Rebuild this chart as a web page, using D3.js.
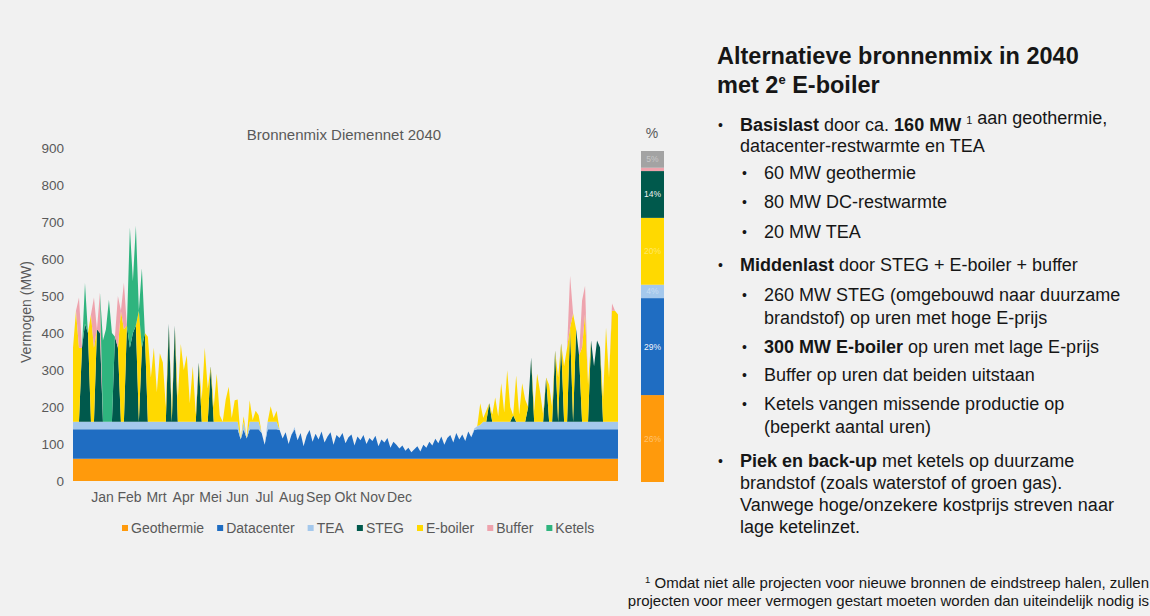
<!DOCTYPE html>
<html>
<head>
<meta charset="utf-8">
<script src="https://cdn.jsdelivr.net/npm/d3@7"></script>
<style>
  html, body { margin: 0; padding: 0; background: #f1f1f1; }
  svg { display: block; font-family: "Liberation Sans", Arial, sans-serif; }
</style>
</head>
<body>
<script>
// ---- data (one point every 2 days, MW) ----
const months = ["Jan", "Feb", "Mrt", "Apr", "Mei", "Jun", "Jul", "Aug", "Sep", "Okt", "Nov", "Dec"];
const yTicks = [0, 100, 200, 300, 400, 500, 600, 700, 800, 900];

const geothermieMW = 60; // flat baseload all year

const datacenter = [
  80,80,80,80,80,80,80,80,80,80, 80,80,80,80,80,80,80,80,80,80, 80,80,80,80,80,80,80,80,80,80,
  80,80,80,80,80,80,80,80,80,80, 80,80,80,80,80,80,80,80,80,80, 80,
  80,80,80,80,80,52,80,55,80,80,80,80,70,38,80,80,80,80,
  78,55,72,40,66,80,50,70,34,62, 78,46,68,52,74,44,60,72,38,64, 56,70,42,58,66,36,60,50,64,40,
  56,48,62,34,52,44,56,30,46,38, 28,36,22,30,18,26,34,20,38,30, 46,36,54,42,60,38,56,64,44,70,
  52,66,48,74,58,78,80,
  80,80,80,80,80,80,80,80,80,80, 80,80,80,80,80,80,80,80,80,80, 80,80,80,80,80,80,80,80,80,80,
  80,80,80,80,80,80,80,80,80,80, 80,80,80,80,80,80,80
];
const tea = [
  20,20,20,20,20,20,20,20,20,20, 20,20,20,20,20,20,20,20,20,20, 20,20,20,20,20,20,20,20,20,20,
  20,20,20,20,20,20,20,20,20,20, 20,20,20,20,20,20,20,20,20,20, 20,
  20,20,20,20,20,0,20,0,20,20,20,20,0,0,20,20,20,20,
  0,0,0,0,0,6,0,0,0,0, 0,0,0,0,0,0,0,0,0,0, 0,0,0,0,0,0,0,0,0,0,
  0,0,0,0,0,0,0,0,0,0, 0,0,0,0,0,0,0,0,0,0, 0,0,0,0,0,0,0,0,0,0,
  0,0,0,0,0,4,8,
  12,20,20,20,20,20,20,20,20,20, 20,20,20,20,20,20,20,20,20,20, 20,20,20,20,20,20,20,20,20,20,
  20,20,20,20,20,20,20,20,20,20, 20,20,20,20,20,20,20
];
const steg = [
  0,0,0,200,265,240,0,0,250,240, 0,0,0,0,230,200,0,0,260,200, 240,260,0,200,240,0,0,0,0,0,
  0,0,265,0,260,0,0,0,0,0, 0,0,160,0,0,0,150,0,0,0, 0,
  0,0,0,0,0,0,0,0,0,0,0,0,0,0,0,0,0,0,
  0,0,0,0,0,0,0,0,0,0, 0,0,0,0,0,0,0,0,0,0, 0,0,0,0,0,0,0,0,0,0,
  0,0,0,0,0,0,0,0,0,0, 0,0,0,0,0,0,0,0,0,0, 0,0,0,0,0,0,0,0,0,0,
  0,0,0,0,0,0,0,
  0,0,0,50,0,0,0,0,0,0, 0,18,0,0,0,0,40,174,0,0, 0,0,120,0,0,193,0,212,0,0,
  255,0,250,180,0,0,0,220,150,220, 201,0,0,0,0,0,0
];
const eBoiler = [
  200,300,200,0,0,0,290,200,0,0, 0,0,0,0,0,0,300,250,0,0, 0,0,300,0,0,230,120,200,80,185,
  160,40,0,30,0,60,210,140,180,50, 150,20,0,60,200,90,0,40,130,18, 0,
  60,95,10,58,60,0,15,0,58,5,30,18,0,0,0,42,10,30,
  0,0,0,0,0,0,0,0,0,0, 0,0,0,0,0,0,0,0,0,0, 0,0,0,0,0,0,0,0,0,0,
  0,0,0,0,0,0,0,0,0,0, 0,0,0,0,0,0,0,0,0,0, 0,0,0,0,0,0,0,0,0,0,
  0,0,0,0,0,0,0,
  58,10,30,0,20,66,15,104,25,139, 40,0,125,20,104,60,0,0,30,130, 80,20,0,100,40,0,120,0,150,200,
  0,293,0,0,200,293,100,0,0,0, 0,60,255,120,300,300,290
];
const buffer = [
  0,0,136,0,0,0,0,136,0,110, 0,0,0,0,0,140,0,126,0,0, 0,0,0,0,0,0,0,0,0,0,
  0,0,0,0,0,0,0,0,0,0, 0,0,0,0,0,0,0,0,0,0, 0,
  0,0,0,0,0,0,0,0,0,0,0,0,0,0,0,0,0,0,
  0,0,0,0,0,0,0,0,0,0, 0,0,0,0,0,0,0,0,0,0, 0,0,0,0,0,0,0,0,0,0,
  0,0,0,0,0,0,0,0,0,0, 0,0,0,0,0,0,0,0,0,0, 0,0,0,0,0,0,0,0,0,0,
  0,0,0,0,0,0,0,
  0,0,0,0,0,0,0,0,0,0, 0,0,0,0,0,0,0,0,0,0, 0,0,0,0,0,0,0,0,0,0,
  140,0,0,0,128,75,0,0,0,0, 0,0,0,0,20,0,0
];
const ketels = [
  0,0,0,0,110,0,0,0,0,0, 220,250,330,240,0,0,0,0,0,325, 140,270,0,215,0,0,0,0,0,0,
  0,0,0,0,0,0,0,0,0,0, 0,0,0,0,0,0,0,0,0,0, 0,
  0,0,0,0,0,0,0,0,0,0,0,0,0,0,0,0,0,0,
  0,0,0,0,0,0,0,0,0,0, 0,0,0,0,0,0,0,0,0,0, 0,0,0,0,0,0,0,0,0,0,
  0,0,0,0,0,0,0,0,0,0, 0,0,0,0,0,0,0,0,0,0, 0,0,0,0,0,0,0,0,0,0,
  0,0,0,0,0,0,0,
  0,0,0,0,0,0,0,0,0,0, 0,0,0,0,0,0,0,0,0,0, 0,0,0,0,0,0,0,0,0,0,
  0,0,0,0,0,0,0,0,0,0, 0,0,0,0,0,0,0
];

// yearly share per source (%), bottom to top of the side bar
const pctKeys = ["geothermie", "datacenter", "tea", "eboiler", "steg", "buffer", "overig"];
const pctValues = [26, 29, 4, 20, 14, 1, 5];

const legendLabels = ["Geothermie", "Datacenter", "TEA", "STEG", "E-boiler", "Buffer", "Ketels"];

// ---- layout ----
const W = 1150, H = 616;
const plot = {left: 73, right: 618, top: 148, bottom: 481};
const colors = {
  geothermie: "#ff9a0c", datacenter: "#1f6dc2", tea: "#a4c8ec", steg: "#00594c",
  eboiler: "#ffd900", buffer: "#eea3ad", ketels: "#2fb47e", overig: "#a3a3a3"
};
const seriesKeys = ["geothermie", "datacenter", "tea", "steg", "eboiler", "buffer", "ketels"];
const grey = "#595959";

const N = datacenter.length;
const rows = d3.range(N).map(function(i) {
  return {
    geothermie: geothermieMW,
    datacenter: datacenter[i],
    tea: tea[i],
    steg: steg[i],
    eboiler: eBoiler[i],
    buffer: buffer[i],
    ketels: ketels[i]
  };
});

const svg = d3.select("body").append("svg")
  .attr("width", W)
  .attr("height", H);

const x = d3.scaleLinear().domain([0, N - 1]).range([plot.left, plot.right]);
const y = d3.scaleLinear().domain([0, 900]).range([plot.bottom, plot.top]);

// stacked areas
const layers = d3.stack().keys(seriesKeys)(rows);
const area = d3.area()
  .x(function(d, i) { return x(i); })
  .y0(function(d) { return y(d[0]); })
  .y1(function(d) { return y(d[1]); });

svg.append("g")
  .selectAll("path")
  .data(layers)
  .join("path")
  .attr("fill", function(d) { return colors[d.key]; })
  .attr("d", area);

// y axis
const yAxis = svg.append("g")
  .attr("transform", "translate(" + plot.left + ",0)")
  .call(d3.axisLeft(y).tickValues(yTicks).tickSize(0).tickPadding(9));
yAxis.select(".domain").remove();
yAxis.selectAll("text").attr("fill", grey).style("font-size", "13.5px")
  .style("font-family", "Liberation Sans, Arial, sans-serif");

// month labels
const xm = d3.scalePoint().domain(months).range([102, 399]);
const xAxis = svg.append("g")
  .attr("transform", "translate(0,484)")
  .call(d3.axisBottom(xm).tickSize(0).tickPadding(8));
xAxis.select(".domain").remove();
xAxis.selectAll("text").attr("fill", grey).style("font-size", "14px")
  .style("font-family", "Liberation Sans, Arial, sans-serif");

// titles
svg.append("text")
  .attr("x", 344).attr("y", 140)
  .attr("text-anchor", "middle")
  .attr("fill", grey)
  .style("font-size", "15px")
  .text("Bronnenmix Diemennet 2040");

svg.append("text")
  .attr("transform", "translate(31,312) rotate(-90)")
  .attr("text-anchor", "middle")
  .attr("fill", grey)
  .style("font-size", "14px")
  .text("Vermogen (MW)");

// legend
const legendKeys = ["geothermie", "datacenter", "tea", "steg", "eboiler", "buffer", "ketels"];
let lx = 122;
legendLabels.forEach(function(lbl, i) {
  const g = svg.append("g");
  g.append("rect")
    .attr("x", lx).attr("y", 525)
    .attr("width", 6).attr("height", 6)
    .attr("fill", colors[legendKeys[i]]);
  const t = g.append("text")
    .attr("x", lx + 9).attr("y", 533)
    .attr("fill", grey)
    .style("font-size", "14px")
    .text(lbl);
  lx += 9 + t.node().getComputedTextLength() + 13;
});

// side bar with yearly shares
const pctTotal = d3.sum(pctValues);
const py = d3.scaleLinear().domain([0, pctTotal]).range([482, 151]);
const pctStack = d3.cumsum(pctValues);
const bar = svg.append("g");
bar.selectAll("rect")
  .data(pctValues)
  .join("rect")
  .attr("x", 641).attr("width", 23)
  .attr("y", function(d, i) { return py(pctStack[i]); })
  .attr("height", function(d) { return py(0) - py(d); })
  .attr("fill", function(d, i) { return colors[pctKeys[i]]; });
bar.selectAll("text")
  .data(pctValues.map(function(v, i) { return {v: v, top: pctStack[i]}; }))
  .join("text")
  .filter(function(d) { return d.v >= 4; })
  .attr("x", 652.5)
  .attr("y", function(d) { return py(d.top - d.v / 2) + 3; })
  .attr("text-anchor", "middle")
  .attr("fill", "#ffffff")
  .attr("fill-opacity", function(d) { return (d.v === 14 || d.v === 29) ? 0.95 : 0.4; })
  .style("font-size", "8.5px")
  .text(function(d) { return d.v + "%"; });

svg.append("text")
  .attr("x", 652).attr("y", 138)
  .attr("text-anchor", "middle")
  .attr("fill", grey)
  .style("font-size", "14px")
  .text("%");

// ---- right text panel ----
const ink = "#161616";
const title = svg.append("g").attr("fill", ink)
  .style("font-size", "23.5px").style("font-weight", "bold");
title.append("text").attr("x", 717).attr("y", 64).text("Alternatieve bronnenmix in 2040");
const t2 = title.append("text").attr("x", 717).attr("y", 93);
t2.append("tspan").text("met 2");
t2.append("tspan").attr("dy", -9).style("font-size", "13px").text("e");
t2.append("tspan").attr("dy", 9).text(" E-boiler");

// [text, bold?, superscript?]
const panelLines = [
  {lvl: 1, y: 131, dot: true, parts: [["Basislast", 1], [" door ca. ", 0], ["160 MW", 1], [" ", 0], ["1", 0, 1], [" aan geothermie,", 0]]},
  {lvl: 1, y: 152, parts: [["datacenter-restwarmte en TEA", 0]]},
  {lvl: 2, y: 179, dot: true, parts: [["60 MW geothermie", 0]]},
  {lvl: 2, y: 208, dot: true, parts: [["80 MW DC-restwarmte", 0]]},
  {lvl: 2, y: 238, dot: true, parts: [["20 MW TEA", 0]]},
  {lvl: 1, y: 271, dot: true, parts: [["Middenlast", 1], [" door STEG + E-boiler + buffer", 0]]},
  {lvl: 2, y: 301, dot: true, parts: [["260 MW STEG (omgebouwd naar duurzame", 0]]},
  {lvl: 2, y: 324, parts: [["brandstof) op uren met hoge E-prijs", 0]]},
  {lvl: 2, y: 353, dot: true, parts: [["300 MW E-boiler", 1], [" op uren met lage E-prijs", 0]]},
  {lvl: 2, y: 381, dot: true, parts: [["Buffer op uren dat beiden uitstaan", 0]]},
  {lvl: 2, y: 410, dot: true, parts: [["Ketels vangen missende productie op", 0]]},
  {lvl: 2, y: 433, parts: [["(beperkt aantal uren)", 0]]},
  {lvl: 1, y: 467, dot: true, parts: [["Piek en back-up", 1], [" met ketels op duurzame", 0]]},
  {lvl: 1, y: 489, parts: [["brandstof (zoals waterstof of groen gas).", 0]]},
  {lvl: 1, y: 511, parts: [["Vanwege hoge/onzekere kostprijs streven naar", 0]]},
  {lvl: 1, y: 533, parts: [["lage ketelinzet.", 0]]}
];

const panel = svg.append("g").attr("fill", ink).style("font-size", "18px");
panelLines.forEach(function(line) {
  const tx = line.lvl === 1 ? 740 : 764;
  const bx = line.lvl === 1 ? 718 : 742;
  if (line.dot) {
    panel.append("text").attr("x", bx).attr("y", line.y - 1)
      .style("font-size", "14px").text("\u2022");
  }
  const t = panel.append("text").attr("x", tx).attr("y", line.y);
  line.parts.forEach(function(p) {
    if (p[2]) {
      t.append("tspan").attr("dy", -7).style("font-size", "11px").text(p[0]);
      t.append("tspan").attr("dy", 7).text("");
    } else {
      t.append("tspan").style("font-weight", p[1] ? "bold" : "normal").text(p[0]);
    }
  });
});

// footnote
const foot = svg.append("g").attr("fill", ink).style("font-size", "15px")
  .attr("text-anchor", "end");
const f1 = foot.append("text").attr("x", 1149).attr("y", 588);
f1.append("tspan").attr("dy", -5).style("font-size", "9.5px").text("1");
f1.append("tspan").attr("dy", 5).text(" Omdat niet alle projecten voor nieuwe bronnen de eindstreep halen, zullen");
foot.append("text").attr("x", 1149).attr("y", 606)
  .text("projecten voor meer vermogen gestart moeten worden dan uiteindelijk nodig is");
</script>
</body>
</html>
